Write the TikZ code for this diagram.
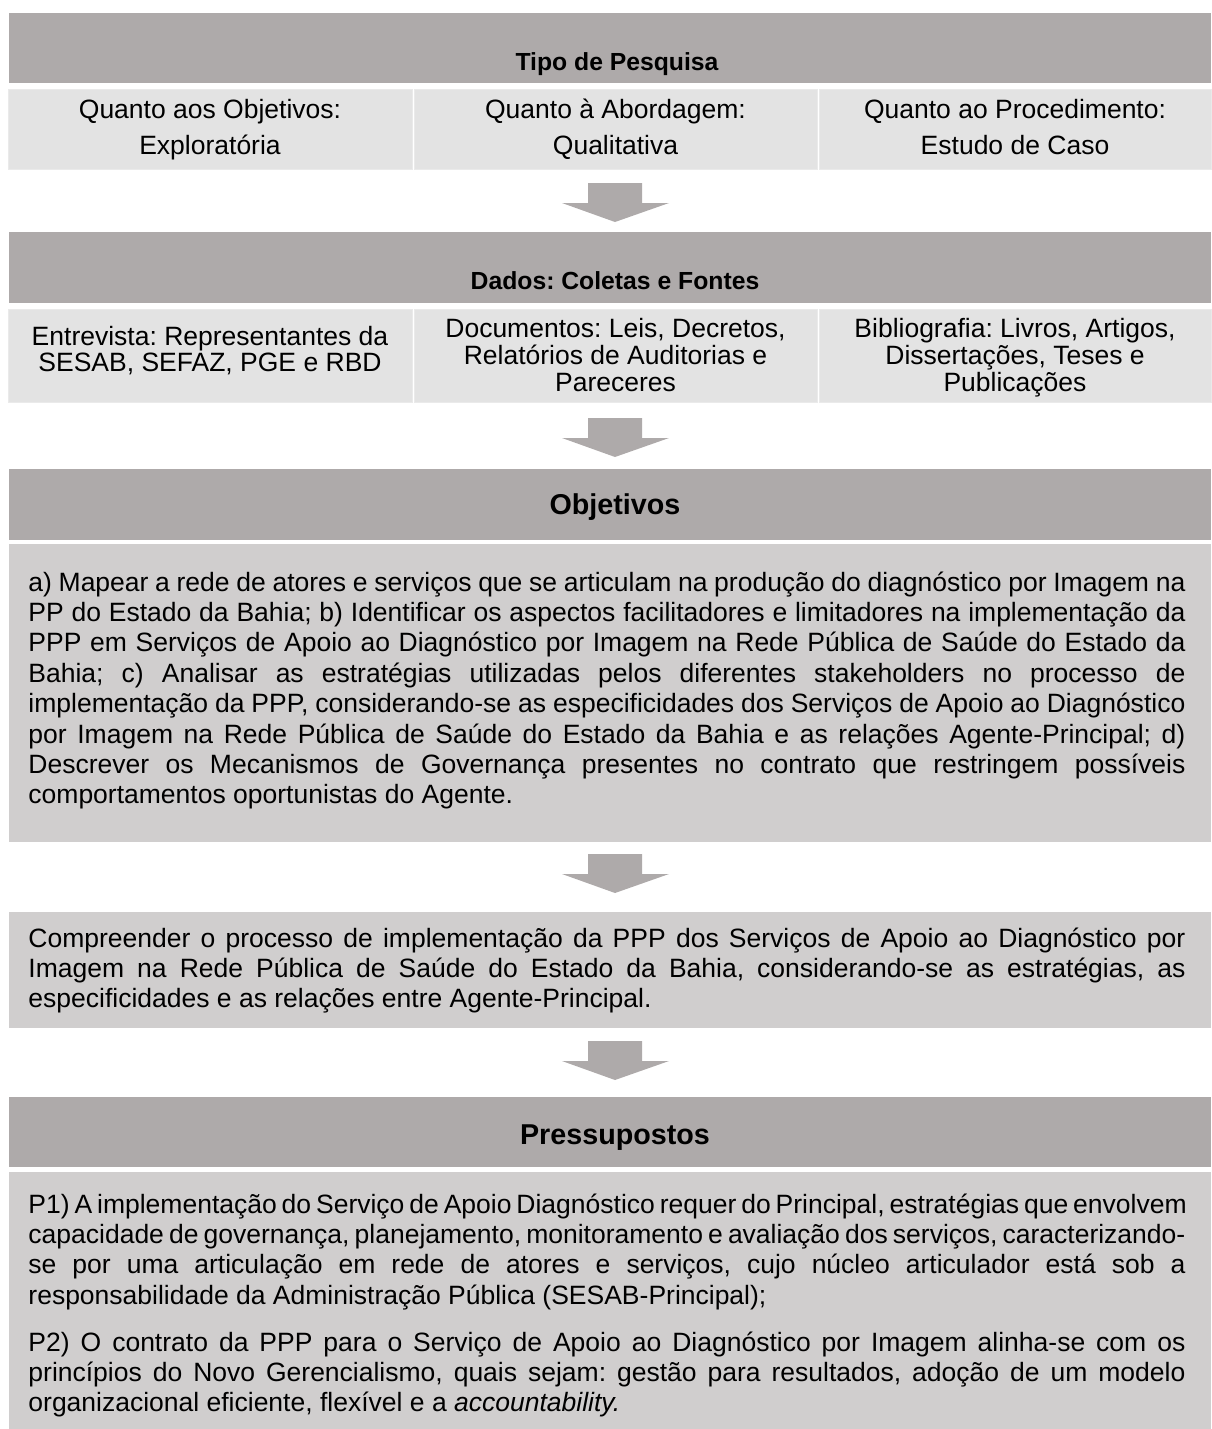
\documentclass[tikz,border=0pt]{standalone}
\usepackage{fontspec}
\setmainfont{Liberation Sans}
\frenchspacing
\definecolor{hdrgray}{HTML}{AEAAAA}
\definecolor{cellgray}{HTML}{E3E3E3}
\definecolor{celledge}{HTML}{EAEAEA}
\definecolor{bodygray}{HTML}{D0CECE}
\newlength{\bodyw}
\setlength{\bodyw}{523.9pt}
\newcommand{\jl}[1]{{\spaceskip=0pt\xspaceskip=0pt\relax\makebox[\bodyw][s]{#1}}}
\newcommand{\blockarrowdown}[1]{%
  \fill[hdrgray] (588,#1) -- (642,#1) -- (642,#1+20) -- (669,#1+20) -- (615,#1+39)
    -- (562,#1+20) -- (588,#1+20) -- cycle;}
\begin{document}
\begin{tikzpicture}[x=0.4528pt,y=-0.4528pt,
  every node/.style={execute at begin node={\spaceskip=\fontdimen2\font\xspaceskip=\fontdimen2\font\relax}},
  hdrbox/.style={fill=hdrgray},
  cellbox/.style={fill=cellgray,draw=celledge,line width=0.45pt},
  bodybox/.style={fill=bodygray},
  smallhdr/.style={anchor=base,inner sep=0,font=\frenchspacing\bfseries\fontsize{11.2}{13}\selectfont},
  bighdr/.style={anchor=base,inner sep=0,font=\bfseries\fontsize{13}{15}\selectfont},
  celltxt/.style={anchor=base,inner sep=0,text width=180pt,align=center},
  bodytxt/.style={anchor=base west,inner sep=0,text width=523.9pt,align=justify,
    font=\frenchspacing\fontsize{12}{13.77}\selectfont}]
\useasboundingbox (0,0) rectangle (1211,1429);

% ---------- Tipo de Pesquisa ----------
\fill[hdrbox] (9,13) rectangle (1211,83);
\node[smallhdr] (tipo) at (617,70) {Tipo de Pesquisa};
\filldraw[cellbox] (8,89) rectangle (412,169);
\filldraw[cellbox] (414,89) rectangle (817,169);
\filldraw[cellbox] (819,89) rectangle (1211,169);
\node[celltxt,font=\frenchspacing\fontsize{12}{16.75}\selectfont] (obj) at (210,118) {Quanto aos Objetivos:\\Exploratória};
\node[celltxt,font=\frenchspacing\fontsize{12}{16.75}\selectfont] (abo) at (615.5,118) {Quanto à Abordagem:\\Qualitativa};
\node[celltxt,font=\frenchspacing\fontsize{12}{16.75}\selectfont] (pro) at (1015,118) {Quanto ao Procedimento:\\Estudo de Caso};

\blockarrowdown{183}

% ---------- Dados ----------
\fill[hdrbox] (9,232) rectangle (1211,303);
\node[smallhdr] (dados) at (615,289) {Dados: Coletas e Fontes};
\filldraw[cellbox] (8,309) rectangle (412,402);
\filldraw[cellbox] (414,309) rectangle (817,402);
\filldraw[cellbox] (819,309) rectangle (1211,402);
\node[celltxt,font=\frenchspacing\fontsize{12}{12.2}\selectfont] (entr) at (210,345) {Entrevista: Representantes da\\SESAB, SEFAZ, PGE e RBD};
\node[celltxt,font=\frenchspacing\fontsize{12}{12.45}\selectfont] (docs) at (615.5,337) {Documentos: Leis, Decretos,\\Relatórios de Auditorias e\\Pareceres};
\node[celltxt,font=\frenchspacing\fontsize{12}{12.45}\selectfont] (bibl) at (1015,337) {Bibliografia: Livros, Artigos,\\Dissertações, Teses e\\Publicações};

\blockarrowdown{418}

% ---------- Objetivos ----------
\fill[hdrbox] (9,469) rectangle (1211,540);
\node[bighdr] (objhdr) at (615,514) {Objetivos};
\fill[bodybox] (9,544) rectangle (1211,842);
\node[bodytxt] (objtxt) at (28,591) {%
\jl{a) Mapear a rede de atores e serviços que se articulam na produção do diagnóstico por Imagem na}\\
\jl{PP do Estado da Bahia; b) Identificar os aspectos facilitadores e limitadores na implementação da}\\
\jl{PPP em Serviços de Apoio ao Diagnóstico por Imagem na Rede Pública de Saúde do Estado da}\\
\jl{Bahia; c) Analisar as estratégias utilizadas pelos diferentes stakeholders no processo de}\\
\jl{implementação da PPP, considerando-se as especificidades dos Serviços de Apoio ao Diagnóstico}\\
\jl{por Imagem na Rede Pública de Saúde do Estado da Bahia e as relações Agente-Principal; d)}\\
\jl{Descrever os Mecanismos de Governança presentes no contrato que restringem possíveis}\\
comportamentos oportunistas do Agente.};

\blockarrowdown{854}

% ---------- Compreender ----------
\fill[bodybox] (9,912) rectangle (1211,1028);
\node[bodytxt] (geral) at (28,947) {%
\jl{Compreender o processo de implementação da PPP dos Serviços de Apoio ao Diagnóstico por}\\
\jl{Imagem na Rede Pública de Saúde do Estado da Bahia, considerando-se as estratégias, as}\\
especificidades e as relações entre Agente-Principal.};

\blockarrowdown{1041}

% ---------- Pressupostos ----------
\fill[hdrbox] (9,1097) rectangle (1211,1167);
\node[bighdr] (preshdr) at (615,1144) {Pressupostos};
\fill[bodybox] (9,1172) rectangle (1211,1429);
\node[bodytxt] (p1) at (28,1213) {%
\jl{P1) A implementação do Serviço de Apoio Diagnóstico requer do Principal, estratégias que envolvem}\\
\jl{capacidade de governança, planejamento, monitoramento e avaliação dos serviços, caracterizando-}\\
\jl{se por uma articulação em rede de atores e serviços, cujo núcleo articulador está sob a}\\
responsabilidade da Administração Pública (SESAB-Principal);};
\node[bodytxt] (p2) at (28,1351) {%
\jl{P2) O contrato da PPP para o Serviço de Apoio ao Diagnóstico por Imagem alinha-se com os}\\
\jl{princípios do Novo Gerencialismo, quais sejam: gestão para resultados, adoção de um modelo}\\
organizacional eficiente, flexível e a \textit{accountability.}};
\end{tikzpicture}
\end{document}
